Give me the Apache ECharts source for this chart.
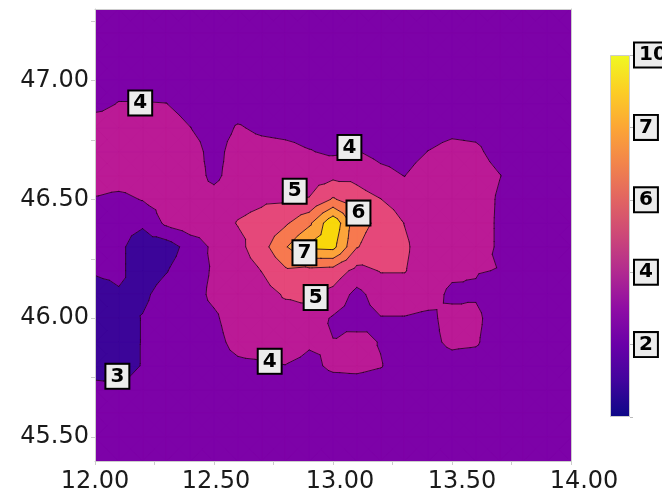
<!DOCTYPE html>
<html><head><meta charset="utf-8">
<script src="https://cdn.jsdelivr.net/npm/echarts@6/dist/echarts.min.js"></script>
<style>html,body{margin:0;padding:0;background:#fff}#chart{width:662px;height:497px}</style>
</head><body><div id="chart"></div>
<script>
// grid nodes (longitude columns, latitude rows from north to south)
const lons = [12.0,12.1,12.2,12.3,12.4,12.5,12.6,12.7,12.8,12.9,13.0,13.1,13.2,13.3,13.4,13.5,13.6,13.7,13.8,13.9,14.0];
const lats = [47.3,47.2,47.1,47.0,46.9,46.8,46.7,46.6,46.5,46.4,46.3,46.2,46.1,46.0,45.9,45.8,45.7,45.6,45.5,45.4];
const z = [
 [3.5,3.5,3.5,3.5,3.5,3.5,3.5,3.5,3.5,3.5,3.5,3.5,3.5,3.5,3.5,3.5,3.5,3.5,3.5,3.5,3.5],
 [3.5,3.5,3.5,3.5,3.5,3.5,3.5,3.5,3.5,3.5,3.5,3.5,3.5,3.5,3.5,3.5,3.5,3.5,3.5,3.5,3.5],
 [3.5,3.5,3.5,3.5,3.5,3.5,3.5,3.5,3.5,3.5,3.5,3.5,3.5,3.5,3.5,3.5,3.5,3.5,3.5,3.5,3.5],
 [3.5,3.6,3.6,3.6,3.5,3.5,3.5,3.5,3.5,3.5,3.5,3.5,3.5,3.5,3.5,3.5,3.5,3.5,3.5,3.5,3.5],
 [3.7,4.05,4.05,4.02,3.6,3.5,3.5,3.5,3.5,3.5,3.5,3.5,3.5,3.5,3.5,3.5,3.5,3.5,3.5,3.5,3.5],
 [4.56,4.5,4.5,4.5,4.02,3.5,4.1,3.8,3.7,3.6,3.6,3.6,3.5,3.5,3.6,3.75,3.7,3.5,3.5,3.5,3.5],
 [4.5,4.5,4.5,4.5,4.5,3.6,4.5,4.4,4.3,4.05,3.85,4.05,3.7,3.6,4.02,4.3,4.2,3.6,3.5,3.5,3.5],
 [4.5,4.5,4.5,4.5,4.5,3.75,4.52,4.56,4.55,4.53,4.75,4.74,4.3,3.98,4.5,4.5,4.5,4.03,3.5,3.5,3.5],
 [3.93,3.75,4.05,4.4,4.4,4.4,4.7,4.85,4.9,5.05,6.1,5.4,5.02,4.47,4.5,4.5,4.5,3.88,3.5,3.5,3.5],
 [3.6,3.3,3.15,4.2,4.6,4.5,5.05,5.3,5.85,6.8,8.8,6.3,5.8,4.98,4.5,4.5,4.5,3.85,3.5,3.5,3.5],
 [3.3,3.2,2.5,2.5,3.4,4.2,4.7,5.6,6.9,8.2,8.3,6.05,5.5,5.15,4.5,4.5,4.5,3.85,3.5,3.5,3.5],
 [3.1,3.2,2.5,2.95,3.6,4.1,4.5,5.02,5.85,5.7,5.6,4.7,5.05,5.05,4.5,4.2,4.05,3.97,3.5,3.5,3.5],
 [2.6,2.9,2.8,3.4,3.6,4.2,4.5,4.6,5.1,5.3,4.7,3.7,4.5,4.5,4.4,3.8,3.9,3.5,3.5,3.5,3.5],
 [2.6,2.5,3.05,3.5,3.6,3.85,4.5,4.6,4.6,4.5,3.9,3.6,3.95,3.95,3.8,4.3,4.2,3.5,3.5,3.5,3.5],
 [2.6,2.5,3.05,3.5,3.6,3.7,4.3,4.5,4.4,4.1,4.02,4.3,3.95,3.6,3.8,4.15,4.1,3.5,3.5,3.5,3.5],
 [2.7,2.6,3.05,3.5,3.5,3.6,3.8,3.86,3.98,3.8,4.15,4.2,4.05,3.5,3.6,3.7,3.6,3.5,3.5,3.5,3.5],
 [3.2,3.2,3.3,3.5,3.5,3.5,3.5,3.5,3.5,3.5,3.6,3.6,3.5,3.5,3.5,3.5,3.5,3.5,3.5,3.5,3.5],
 [3.5,3.5,3.5,3.5,3.5,3.5,3.5,3.5,3.5,3.5,3.5,3.5,3.5,3.5,3.5,3.5,3.5,3.5,3.5,3.5,3.5],
 [3.5,3.5,3.5,3.5,3.5,3.5,3.5,3.5,3.5,3.5,3.5,3.5,3.5,3.5,3.5,3.5,3.5,3.5,3.5,3.5,3.5],
 [3.5,3.5,3.5,3.5,3.5,3.5,3.5,3.5,3.5,3.5,3.5,3.5,3.5,3.5,3.5,3.5,3.5,3.5,3.5,3.5,3.5]
];
const levels = [3,4,5,6,7,8];
const contourLabels = [
 [12.19,46.905,'4'],[13.069,46.718,'4'],[12.839,46.534,'5'],[13.107,46.442,'6'],
 [12.88,46.275,'7'],[12.927,46.087,'5'],[12.734,45.819,'4'],[12.094,45.756,'3']
];
const xTicks = [12.0,12.5,13.0,13.5,14.0];
const xTickLabels = ['12.00','12.50','13.00','13.50','14.00'];
const xMinorTicks = [12.0,12.25,12.5,12.75,13.0,13.25,13.5,13.75,14.0];
const yTicks = [45.5,46.0,46.5,47.0];
const yTickLabels = ['45.50','46.00','46.50','47.00'];
const yMinorTicks = [45.5,45.75,46.0,46.25,46.5,46.75,47.0,47.25];
const cbTicks = [1,2,3,4,5];
const cbTickLabels = ['2','4','6','7','10'];
const cbAllTicks = [0,1,2,3,4,5];

const bandColors = ['#3c0599','#7d02a8','#bb1a96','#e5487a','#f7794f','#fca43a','#f9d70b'];
const lineColor = 'rgba(35,0,35,0.85)';
const FONT = 'DejaVu Sans';

function node(r,c){ return {x:lons[c], y:lats[r], v:z[r][c]}; }
function cellTris(r,c){
  const tl=node(r,c), tr=node(r,c+1), br=node(r+1,c+1), bl=node(r+1,c);
  const ce={x:(tl.x+tr.x)/2, y:(tl.y+bl.y)/2, v:(tl.v+tr.v+br.v+bl.v)/4};
  return [[tl,tr,ce],[tr,br,ce],[br,bl,ce],[bl,tl,ce]];
}
const allTris=[];
for(let r=0;r<lats.length-1;r++) for(let c=0;c<lons.length-1;c++) allTris.push(...cellTris(r,c));

function clip(poly, level, keepAbove){
  const out=[];
  for(let n=0;n<poly.length;n++){
    const a=poly[n], b=poly[(n+1)%poly.length];
    const da = keepAbove ? a.v-level : level-a.v;
    const db = keepAbove ? b.v-level : level-b.v;
    if(da>=0) out.push(a);
    if((da>=0)!==(db>=0)){
      const t=da/(da-db);
      out.push({x:a.x+t*(b.x-a.x), y:a.y+t*(b.y-a.y), v:level});
    }
  }
  return out;
}
function pt(api,p){ const q=api.coord([p.x,p.y]); return q[0].toFixed(2)+' '+q[1].toFixed(2); }

// one compound path per band (no seams inside a band)
function renderBand(params, api){
  const k=api.value(0);
  const lo = k===0 ? -Infinity : levels[k-1];
  const hi = k===levels.length ? Infinity : levels[k];
  let d='';
  for(const t of allTris){
    const mn=Math.min(t[0].v,t[1].v,t[2].v), mx=Math.max(t[0].v,t[1].v,t[2].v);
    if(mx<=lo || mn>=hi) continue;
    let poly=t;
    if(isFinite(lo)) poly=clip(poly,lo,true);
    if(poly.length<3) continue;
    if(isFinite(hi)) poly=clip(poly,hi,false);
    if(poly.length<3) continue;
    d+='M'+poly.map(p=>pt(api,p)).join('L')+'Z';
  }
  return {type:'path', silent:true, shape:{pathData:d},
    style:{fill:bandColors[k], stroke:bandColors[k], lineWidth:0.6, lineJoin:'round'}};
}
function renderLevel(params, api){
  const L=levels[api.value(0)];
  let d='';
  for(const t of allTris){
    const pts=[];
    for(let e=0;e<3;e++){
      const a=t[e], b=t[(e+1)%3];
      if((a.v<L)!==(b.v<L)){
        const tt=(L-a.v)/(b.v-a.v);
        pts.push({x:a.x+tt*(b.x-a.x), y:a.y+tt*(b.y-a.y)});
      }
    }
    if(pts.length===2) d+='M'+pt(api,pts[0])+'L'+pt(api,pts[1]);
  }
  return {type:'path', silent:true, shape:{pathData:d},
    style:{fill:'none', stroke:lineColor, lineWidth:1, lineCap:'round', lineJoin:'round'}};
}

const xShift=[0,4,14,20,26];
const xRich={};
xShift.forEach((s,k)=>{ xRich['s'+k]={padding:[0,0,0,s], fontSize:24, fontFamily:FONT, color:'#1a1a1a'}; });

const boxLabel = {fontFamily:FONT, fontSize:20, fontWeight:'bold', color:'#000', opacity:1,
  backgroundColor:'#ececec', borderColor:'#000', borderWidth:2, padding:[2,4,1,4], lineHeight:20};

const chart=echarts.init(document.getElementById('chart'),null,{renderer:'canvas'});
chart.setOption({
  animation:false,
  backgroundColor:'#fff',
  grid:[
    {left:95, top:9, width:476, height:452, outerBoundsMode:'none', containLabel:false},
    {left:610, top:55, width:20, height:362, outerBoundsMode:'none', containLabel:false}
  ],
  xAxis:[
    {type:'value', gridIndex:0, min:12, max:14, position:'bottom', z:10,
     axisLine:{show:true, onZero:false, lineStyle:{color:'#cccccc', width:1}},
     axisTick:{show:true, length:4, customValues:xMinorTicks, lineStyle:{color:'#cccccc'}},
     axisLabel:{show:true, customValues:xTicks, margin:9, fontSize:24, fontFamily:FONT, color:'#1a1a1a',
       formatter:v=>{const k=xTicks.findIndex(t=>Math.abs(t-v)<1e-9); return k<0?'':'{s'+k+'|'+xTickLabels[k]+'}';},
       rich:xRich},
     splitLine:{show:false}},
    {type:'value', gridIndex:0, min:12, max:14, position:'top', z:10,
     axisLine:{show:true, onZero:false, lineStyle:{color:'#cccccc', width:1}},
     axisTick:{show:false}, axisLabel:{show:false}, splitLine:{show:false}},
    {type:'category', gridIndex:1, data:['c'], show:false}
  ],
  yAxis:[
    {type:'value', gridIndex:0, min:45.4, max:47.3, position:'left', z:10,
     axisLine:{show:true, onZero:false, lineStyle:{color:'#cccccc', width:1}},
     axisTick:{show:true, length:4, customValues:yMinorTicks, lineStyle:{color:'#cccccc'}},
     axisLabel:{show:true, customValues:yTicks, margin:6, fontSize:24, fontFamily:FONT, color:'#1a1a1a',
       formatter:v=>{const k=yTicks.findIndex(t=>Math.abs(t-v)<1e-9); return k<0?'':yTickLabels[k];}},
     splitLine:{show:false}},
    {type:'value', gridIndex:0, min:45.4, max:47.3, position:'right', z:10,
     axisLine:{show:true, onZero:false, lineStyle:{color:'#cccccc', width:1}},
     axisTick:{show:false}, axisLabel:{show:false}, splitLine:{show:false}},
    {type:'value', gridIndex:1, min:0, max:5, position:'right', z:10,
     axisLine:{show:false},
     axisTick:{show:true, length:3, customValues:cbAllTicks, lineStyle:{color:'#bbbbbb'}},
     axisLabel:Object.assign({show:true, customValues:cbTicks, margin:5,
       formatter:v=>{const k=cbTicks.indexOf(v); return k<0?'':cbTickLabels[k];}}, boxLabel),
     splitLine:{show:false}}
  ],
  series:[
    {type:'custom', xAxisIndex:0, yAxisIndex:0, coordinateSystem:'cartesian2d', clip:true, z:1,
     data:bandColors.map((c,k)=>[k]), encode:{x:-1,y:-1}, renderItem:renderBand, silent:true},
    {type:'custom', xAxisIndex:0, yAxisIndex:0, coordinateSystem:'cartesian2d', clip:true, z:2,
     data:levels.map((l,k)=>[k]), encode:{x:-1,y:-1}, renderItem:renderLevel, silent:true},
    {type:'scatter', xAxisIndex:0, yAxisIndex:0, z:20, symbolSize:0, silent:true,
     itemStyle:{color:'#000', opacity:1},
     data:contourLabels.map(d=>({value:[d[0],d[1]], name:d[2]})),
     label:Object.assign({show:true, position:'inside', formatter:'{b}'}, boxLabel)},
    {type:'bar', xAxisIndex:2, yAxisIndex:2, barWidth:20, silent:true, data:[5],
     itemStyle:{borderColor:'#cccccc', borderWidth:1,
       color:new echarts.graphic.LinearGradient(0,0,0,1,[
        {offset:0,color:'#f0f921'},{offset:0.1,color:'#fcce25'},{offset:0.2,color:'#fca636'},
        {offset:0.3,color:'#f2844b'},{offset:0.4,color:'#e16462'},{offset:0.5,color:'#cc4778'},
        {offset:0.6,color:'#b12a90'},{offset:0.7,color:'#8f0da4'},{offset:0.8,color:'#6a00a8'},
        {offset:0.9,color:'#41049d'},{offset:1,color:'#0d0887'}])}}
  ]
});
</script></body></html>
